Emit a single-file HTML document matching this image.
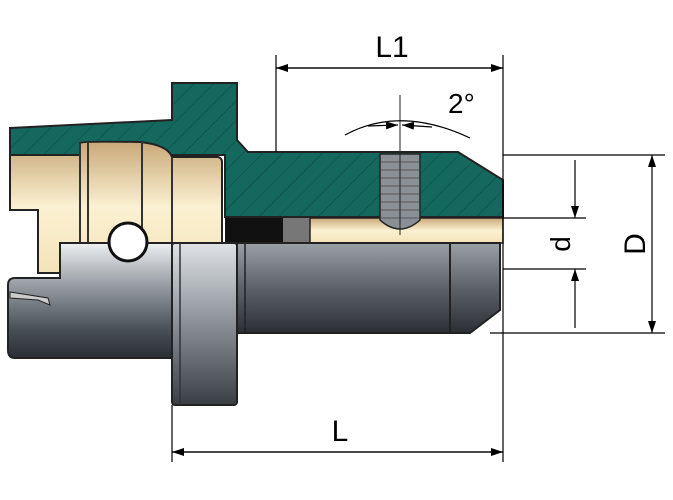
<!DOCTYPE html><html><head><style>body{margin:0;background:#fff}svg{display:block}</style></head><body>
<svg width="673" height="500" viewBox="0 0 673 500" xmlns="http://www.w3.org/2000/svg" font-family="Liberation Sans, sans-serif">
<defs>
<linearGradient id="beige" x1="0" y1="0" x2="0" y2="1"><stop offset="0" stop-color="#c9a878"/><stop offset="0.5" stop-color="#fbf1d2"/><stop offset="1" stop-color="#f4e3b8"/></linearGradient>
<linearGradient id="steel" x1="0" y1="0" x2="0" y2="1"><stop offset="0" stop-color="#eef0f2"/><stop offset="0.35" stop-color="#9aa0a6"/><stop offset="0.75" stop-color="#4a5058"/><stop offset="1" stop-color="#2a2e34"/></linearGradient>
<linearGradient id="shaft" x1="0" y1="0" x2="0" y2="1"><stop offset="0" stop-color="#9ba0a6"/><stop offset="0.5" stop-color="#5d6269"/><stop offset="1" stop-color="#2b2f35"/></linearGradient>
<linearGradient id="flange" x1="0" y1="0" x2="0" y2="1"><stop offset="0" stop-color="#dfe2e5"/><stop offset="0.4" stop-color="#9aa0a6"/><stop offset="1" stop-color="#3a3f45"/></linearGradient>
<pattern id="hatch" width="14" height="14" patternUnits="userSpaceOnUse" patternTransform="rotate(45)"><rect width="14" height="14" fill="#14685d"/><line x1="0" y1="0" x2="0" y2="14" stroke="#0d4a42" stroke-width="1"/></pattern>
<marker id="ar" markerWidth="12" markerHeight="8" refX="12" refY="4" orient="auto" markerUnits="userSpaceOnUse"><path d="M0,0 L12,4 L0,8 z" fill="#000"/></marker>
</defs>
<path d="M10,128 L172,120 L172,83 L237,83 L237,140 L248,152 L458,152 L503,180 L503,217 L225,217 L225,155 L10,155 Z" fill="url(#hatch)" stroke="#222" stroke-width="2"/>
<path d="M10,155 L80,155 L80,143 Q82,141 140,142 Q168,145 172,157 L218,157 Q222,158 222,162 L222,243 L60,243 L60,273 L38,273 L38,210 L10,210 Z" fill="url(#beige)" stroke="#222" stroke-width="2"/>
<g stroke="#333" stroke-width="2"><line x1="80" y1="143" x2="80" y2="243"/><line x1="88" y1="142" x2="88" y2="243"/><line x1="142" y1="142" x2="142" y2="243"/><line x1="172" y1="157" x2="172" y2="243"/></g>
<rect x="225" y="218" width="85" height="25" fill="#111"/>
<rect x="283" y="218" width="27" height="25" fill="#777"/>
<rect x="310" y="218" width="193" height="25" fill="url(#beige)" stroke="#222" stroke-width="1.5"/>
<path d="M380,154 L420,154 L420,220 Q400,238 380,220 Z" fill="#8a9096" stroke="#222" stroke-width="1.5"/>
<g stroke="#555" stroke-width="1"><line x1="381" y1="162" x2="419" y2="162"/><line x1="381" y1="170" x2="419" y2="170"/><line x1="381" y1="178" x2="419" y2="178"/><line x1="381" y1="186" x2="419" y2="186"/><line x1="381" y1="194" x2="419" y2="194"/><line x1="381" y1="202" x2="419" y2="202"/><line x1="381" y1="210" x2="419" y2="210"/><line x1="381" y1="218" x2="419" y2="218"/></g>
<line x1="400" y1="95" x2="400" y2="235" stroke="#222" stroke-width="1"/>
<path d="M60,243 L172,243 L172,358 L15,358 Q8,358 8,350 L8,285 Q8,278 15,278 L60,278 Z" fill="url(#steel)" stroke="#222" stroke-width="2"/>
<path d="M10,292 L48,298 L50,305 L38,300 L10,298 Z" fill="#ccc" stroke="#222" stroke-width="1"/>
<rect x="172" y="243" width="65" height="162" rx="3" fill="url(#flange)" stroke="#222" stroke-width="2"/>
<line x1="180" y1="243" x2="180" y2="405" stroke="#333" stroke-width="1.5"/>
<path d="M237,243 L450,243 L450,333 L237,333 Z" fill="url(#shaft)" stroke="#222" stroke-width="2"/>
<path d="M450,243 L500,243 L500,310 L470,333 L450,333 Z" fill="url(#shaft)" stroke="#222" stroke-width="2"/>
<line x1="245" y1="243" x2="245" y2="333" stroke="#222" stroke-width="1.5"/>
<circle cx="128" cy="242" r="19" fill="#fff" stroke="#111" stroke-width="3"/>
<g stroke="#000" stroke-width="1.2" fill="none">
<line x1="276" y1="55" x2="276" y2="152"/>
<line x1="503" y1="55" x2="503" y2="462"/>
<line x1="172" y1="405" x2="172" y2="462"/>
<line x1="276" y1="68" x2="503" y2="68" marker-end="url(#ar)"/>
<line x1="503" y1="68" x2="276" y2="68" marker-end="url(#ar)"/>
<line x1="172" y1="452" x2="503" y2="452" marker-end="url(#ar)"/>
<line x1="503" y1="452" x2="172" y2="452" marker-end="url(#ar)"/>
<line x1="503" y1="155" x2="665" y2="155"/>
<line x1="503" y1="218" x2="586" y2="218"/>
<line x1="503" y1="269" x2="586" y2="269"/>
<line x1="490" y1="333" x2="665" y2="333"/>
<line x1="652" y1="244" x2="652" y2="155" marker-end="url(#ar)"/>
<line x1="652" y1="244" x2="652" y2="333" marker-end="url(#ar)"/>
<line x1="575" y1="160" x2="575" y2="218" marker-end="url(#ar)"/>
<line x1="575" y1="328" x2="575" y2="269" marker-end="url(#ar)"/>
<path d="M345,135 Q400,105 470,138"/>
<line x1="368" y1="126" x2="398" y2="125" marker-end="url(#ar)"/>
<line x1="432" y1="127" x2="402" y2="125" marker-end="url(#ar)"/>
</g>
<text x="392" y="57" font-size="30" text-anchor="middle">L1</text>
<text x="340" y="441" font-size="30" text-anchor="middle">L</text>
<text x="448" y="113" font-size="28">2°</text>
<text transform="translate(570,244) rotate(-90)" font-size="28" text-anchor="middle">d</text>
<text transform="translate(645,244) rotate(-90)" font-size="30" text-anchor="middle">D</text>
</svg></body></html>
